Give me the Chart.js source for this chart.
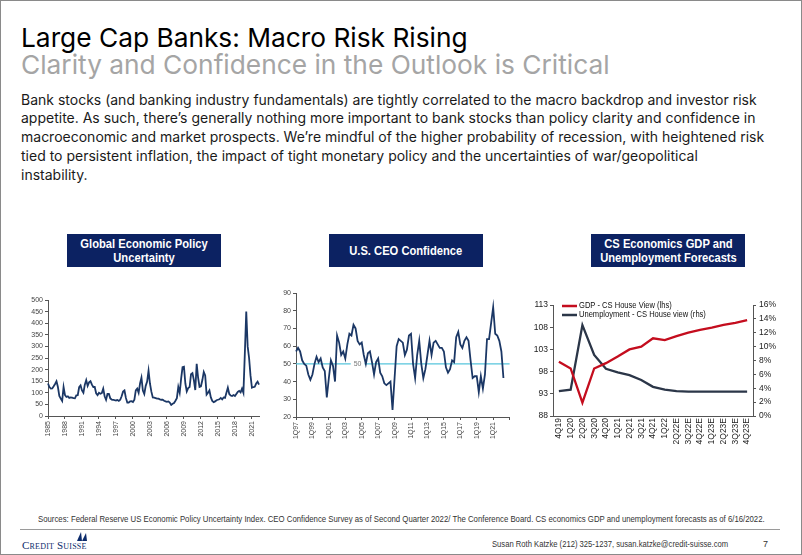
<!DOCTYPE html>
<html><head><meta charset="utf-8">
<script src="https://cdn.jsdelivr.net/npm/chart.js@4.4.1/dist/chart.umd.min.js"></script>
<style>
*{box-sizing:border-box;}
html,body{margin:0;padding:0;background:#fff;}
#slide{position:relative;width:802px;height:555px;overflow:hidden;font-family:Inter,"Liberation Sans",Arial,sans-serif;background:#fff;}
#frame{position:absolute;left:0;top:0;width:802px;height:555px;border:1px solid #8a8a8a;pointer-events:none;}
.a{position:absolute;white-space:nowrap;}
#title{left:21px;top:21px;font-size:26.3px;line-height:34px;color:#000;}
#subtitle{left:21px;top:48px;font-size:26.3px;line-height:34px;color:#a5a5a5;}
#body{left:21px;top:90.5px;font-size:14px;line-height:18.8px;color:#1a1a1a;}
.hdr{top:234px;height:33px;width:154px;background:#0c2262;color:#fff;font-family:"Liberation Sans",Arial,sans-serif;font-weight:bold;font-size:13px;line-height:14px;display:flex;align-items:center;justify-content:center;text-align:center;}
.hdr span{display:inline-block;white-space:nowrap;transform:scaleX(0.86);transform-origin:center center;}
canvas{position:absolute;}
.nar{font-family:"Liberation Sans",Arial,sans-serif;transform-origin:left center;}
#src{left:38px;top:514px;font-size:9px;line-height:11px;color:#333;transform:scaleX(0.865);}
#rule{left:20px;top:529px;width:760px;height:1px;background:#9a9a9a;}
#logo{left:22px;top:539px;font-family:"Liberation Serif",serif;font-variant:small-caps;font-size:11px;line-height:12px;color:#0b2a6b;letter-spacing:0.2px;}
#sail{left:76px;top:531px;}
#author{left:492px;top:539px;font-size:9px;line-height:11px;color:#333;transform:scaleX(0.85);}
#page{left:763px;top:539px;font-family:"Liberation Sans",Arial,sans-serif;font-size:9px;line-height:11px;color:#333;}
</style>
</head>
<body>
<div id="slide">
  <div class="a" id="title">Large Cap Banks: Macro Risk Rising</div>
  <div class="a" id="subtitle">Clarity and Confidence in the Outlook is Critical</div>
  <div class="a" id="body">Bank stocks (and banking industry fundamentals) are tightly correlated to the macro backdrop and investor risk<br>appetite. As such, there’s generally nothing more important to bank stocks than policy clarity and confidence in<br>macroeconomic and market prospects. We’re mindful of the higher probability of recession, with heightened risk<br>tied to persistent inflation, the impact of tight monetary policy and the uncertainties of war/geopolitical<br>instability.</div>

  <div class="a hdr" style="left:67px;"><span>Global Economic Policy<br>Uncertainty</span></div>
  <div class="a hdr" style="left:329px;"><span>U.S. CEO Confidence</span></div>
  <div class="a hdr" style="left:591px;"><span>CS Economics GDP and<br>Unemployment Forecasts</span></div>

  <canvas id="c1" width="250" height="160" style="left:20px;top:292px;width:250px;height:160px;"></canvas>
  <canvas id="c2" width="245" height="165" style="left:275px;top:285px;width:245px;height:165px;"></canvas>
  <canvas id="c3" width="270" height="165" style="left:525px;top:295px;width:270px;height:165px;"></canvas>

  <div class="a nar" id="src">Sources: Federal Reserve US Economic Policy Uncertainty Index. CEO Confidence Survey as of Second Quarter 2022/ The Conference Board. CS economics GDP and unemployment forecasts as of 6/16/2022.</div>
  <div class="a" id="rule"></div>
  <div class="a" id="logo">Credit Suisse</div>
  <svg class="a" id="sail" width="12" height="11" viewBox="0 0 12 11"><path d="M1 10 L5 1 L6 10 Z" fill="#0b2a6b"/><path d="M6 10 L10 2 L11 10 Z" fill="#0b2a6b"/></svg>
  <div class="a nar" id="author">Susan Roth Katzke (212) 325-1237, susan.katzke@credit-suisse.com</div>
  <div class="a" id="page">7</div>
  <div id="frame"></div>
</div>
<script>
// ---------- DATA ----------
// Chart 1: Global Economic Policy Uncertainty (quarterly, 1985 Q1 - 2022 Q2)
const epuStartYear = 1985;
const epuValues = [140,125,118,119,128,138,150,125,86,75,
  65,125,90,82,85,78,80,79,77,76,
  89,90,124,132,110,100,135,155,130,145,
  150,135,125,125,98,90,100,96,99,118,
  85,70,95,95,76,71,70,68,67,69,
  65,70,85,105,110,78,58,58,63,64,
  60,70,110,118,100,140,165,110,95,130,
  148,195,140,105,80,79,77,75,75,72,
  70,70,66,63,61,63,58,48,53,56,
  66,77,125,100,160,210,212,140,106,120,
  125,180,185,155,112,225,165,125,128,155,
  190,175,92,100,110,80,65,60,63,68,
  70,72,78,72,80,78,100,122,95,88,
  86,90,86,95,104,108,102,118,100,270,
  450,300,250,175,122,125,126,140,148,135];
const epuTickEvery = 12; // one label every 3 years
const epuYMin = 0, epuYMax = 500, epuYStep = 50;

// Chart 2: U.S. CEO Confidence (quarterly, 1Q97 - 2Q22; axis runs to 1Q23)
const ceoStartYear = 1997, ceoEndYear = 2023;
const ceoValues = [57,59,57,52,50,49,44,41,44,50,
  54,51,53,48,46,31,42,52,49,40,
  66,62,55,57,53,61,67,66,72,70,
  63,61,62,55,50,56,57,51,44,51,
  53,45,43,39,38,39,40,24,42,60,
  64,63,62,55,58,66,67,50,42,55,
  63,50,42,47,55,63,55,62,63,61,
  59,59,57,48,45,47,52,51,65,68,
  61,59,63,65,63,52,42,43,43,34,
  43,36,44,64,64,73,82,67,66,63,
  57,42];
const ceoRef = 50;
const ceoRefLabelIndex = 30;
const ceoTickEvery = 8;
const ceoYMin = 20, ceoYMax = 90, ceoYStep = 10;

// Chart 3: CS Economics GDP and Unemployment Forecasts
const gdpLabels = ['4Q19','1Q20','2Q20','3Q20','4Q20','1Q21','2Q21','3Q21','4Q21','1Q22','2Q22E','3Q22E','4Q22E','1Q23E','2Q23E','3Q23E','4Q23E'];
const gdpValues = [100.2,98.7,91.0,98.7,99.9,101.4,103.0,103.6,105.5,105.1,106.0,106.8,107.4,107.9,108.5,109.0,109.6];
const unempValues = [3.6,3.8,13.1,8.8,6.8,6.3,5.9,5.2,4.2,3.8,3.6,3.5,3.5,3.5,3.5,3.5,3.5];
const gdpSeriesName = 'GDP - CS House View (lhs)';
const unempSeriesName = 'Unemployment - CS House view (rhs)';
const gdpYMin = 88, gdpYMax = 113, gdpYStep = 5;
const unempYMin = 0, unempYMax = 16, unempYStep = 2;

// ---------- LABEL BUILDING ----------
const epuLabels = [];
for (let i = 0; i < epuValues.length; i++) {
  epuLabels.push((epuStartYear + Math.floor(i / 4)) + ' Q' + (i % 4 + 1));
}
const ceoLabels = [];
for (let y = ceoStartYear; y <= ceoEndYear; y++) {
  for (let q = 1; q <= 4; q++) {
    ceoLabels.push(q + 'Q' + String(y).slice(2));
    if (y === ceoEndYear) break;
  }
}

// ---------- STYLE ----------
const SANS = '"Liberation Sans", Arial, sans-serif';
const navyLine = '#1b3765';
const axisColor = '#555';
Chart.defaults.font.family = SANS;
Chart.defaults.color = '#333';

function baseOpts() {
  return {
    responsive: false, maintainAspectRatio: false, animation: false, events: [],
    plugins: { legend: { display: false }, tooltip: { enabled: false } },
    elements: { point: { radius: 0 }, line: { tension: 0 } }
  };
}

// Chart 1
new Chart(document.getElementById('c1'), {
  type: 'line',
  data: { labels: epuLabels, datasets: [{ data: epuValues, borderColor: navyLine, borderWidth: 1.8, fill: false }] },
  options: Object.assign(baseOpts(), {
    layout: { autoPadding: false, padding: { top: 8, right: 11, left: 0, bottom: 0 } },
    scales: {
      x: {
        type: 'category', offset: false,
        afterBuildTicks: a => { a.ticks = a.ticks.filter(t => t.value % epuTickEvery === 0); },
        afterFit: a => { a.height = 36; },
        ticks: { autoSkip: false, maxRotation: 90, minRotation: 90, padding: 2, font: { size: 7 }, color: '#444',
          callback: function (v) { return this.getLabelForValue(v).slice(0, 4); } },
        grid: { drawOnChartArea: false, tickLength: 3, color: axisColor },
        border: { color: axisColor }
      },
      y: {
        min: epuYMin, max: epuYMax,
        afterFit: a => { a.width = 28; },
        ticks: { stepSize: epuYStep, padding: 2, font: { size: 7 }, color: '#444' },
        grid: { drawOnChartArea: false, tickLength: 3, color: axisColor },
        border: { color: axisColor }
      }
    }
  })
});

// Chart 2
const refLinePlugin = {
  id: 'refLine',
  beforeDatasetsDraw(c) {
    const { ctx, chartArea: a, scales: { x, y } } = c;
    const py = y.getPixelForValue(ceoRef);
    ctx.save();
    ctx.strokeStyle = '#56c5dc';
    ctx.lineWidth = 1.3;
    ctx.beginPath(); ctx.moveTo(a.left, py); ctx.lineTo(a.right, py); ctx.stroke();
    const lx = x.getPixelForValue(ceoRefLabelIndex);
    ctx.font = '7px ' + SANS;
    const txt = String(ceoRef);
    const w = ctx.measureText(txt).width;
    ctx.fillStyle = '#fff';
    ctx.fillRect(lx - w / 2 - 3, py - 5, w + 6, 10);
    ctx.fillStyle = '#777';
    ctx.textAlign = 'center'; ctx.textBaseline = 'middle';
    ctx.fillText(txt, lx, py + 0.5);
    ctx.restore();
  }
};
new Chart(document.getElementById('c2'), {
  type: 'line',
  data: { labels: ceoLabels, datasets: [{ data: ceoValues, borderColor: navyLine, borderWidth: 1.8, fill: false }] },
  plugins: [refLinePlugin],
  options: Object.assign(baseOpts(), {
    layout: { autoPadding: false, padding: { top: 8, right: 8, left: 0, bottom: 0 } },
    scales: {
      x: {
        type: 'category', offset: false,
        afterBuildTicks: a => { a.ticks = a.ticks.filter(t => t.value % ceoTickEvery === 0); },
        afterFit: a => { a.height = 33; },
        ticks: { autoSkip: false, maxRotation: 90, minRotation: 90, padding: 2, font: { size: 7 }, color: '#444',
          callback: function (v) { return v === ceoLabels.length - 1 ? '' : this.getLabelForValue(v); } },
        grid: { drawOnChartArea: false, tickLength: 3, color: axisColor },
        border: { color: axisColor }
      },
      y: {
        min: ceoYMin, max: ceoYMax,
        afterFit: a => { a.width = 21; },
        ticks: { stepSize: ceoYStep, padding: 2, font: { size: 7 }, color: '#444' },
        grid: { drawOnChartArea: false, tickLength: 3, color: axisColor },
        border: { color: axisColor }
      }
    }
  })
});

// Chart 3
const legendPlugin = {
  id: 'insideLegend',
  afterDatasetsDraw(c) {
    const { ctx, chartArea: a } = c;
    ctx.save();
    ctx.font = '9px ' + SANS;
    ctx.textBaseline = 'middle';
    c.data.datasets.forEach((ds, k) => {
      const y = a.top + 1 + k * 9;
      ctx.strokeStyle = ds.borderColor; ctx.lineWidth = 2.5;
      ctx.beginPath(); ctx.moveTo(a.left + 9, y); ctx.lineTo(a.left + 24, y); ctx.stroke();
      ctx.save();
      ctx.translate(a.left + 26, y);
      ctx.scale(0.84, 1);
      ctx.fillStyle = '#111';
      ctx.fillText(ds.label, 0, 0);
      ctx.restore();
    });
    ctx.restore();
  }
};
new Chart(document.getElementById('c3'), {
  type: 'line',
  data: {
    labels: gdpLabels,
    datasets: [
      { label: gdpSeriesName, data: gdpValues, borderColor: '#c40d1e', borderWidth: 2.3, yAxisID: 'y', fill: false },
      { label: unempSeriesName, data: unempValues, borderColor: '#2b3648', borderWidth: 2.3, yAxisID: 'y1', fill: false }
    ]
  },
  plugins: [legendPlugin],
  options: Object.assign(baseOpts(), {
    layout: { autoPadding: false, padding: { top: 10, right: 0, left: 0, bottom: 0 } },
    scales: {
      x: {
        type: 'category', offset: true,
        afterFit: a => { a.height = 44; },
        ticks: { autoSkip: false, maxRotation: 90, minRotation: 90, padding: 2, font: { size: 8.5 }, color: '#222' },
        grid: { drawOnChartArea: false, drawTicks: false, color: axisColor },
        border: { color: axisColor }
      },
      y: {
        position: 'left', min: gdpYMin, max: gdpYMax,
        afterFit: a => { a.width = 28; },
        ticks: { stepSize: gdpYStep, padding: 2, font: { size: 8.5 }, color: '#222' },
        grid: { drawOnChartArea: false, tickLength: 3, color: axisColor },
        border: { color: axisColor }
      },
      y1: {
        position: 'right', min: unempYMin, max: unempYMax,
        afterFit: a => { a.width = 42; },
        ticks: { stepSize: unempYStep, padding: 3, font: { size: 8.5 }, color: '#222', callback: v => v + '%' },
        grid: { drawOnChartArea: false, tickLength: 3, color: axisColor },
        border: { color: axisColor }
      }
    }
  })
});
</script>
</body></html>
